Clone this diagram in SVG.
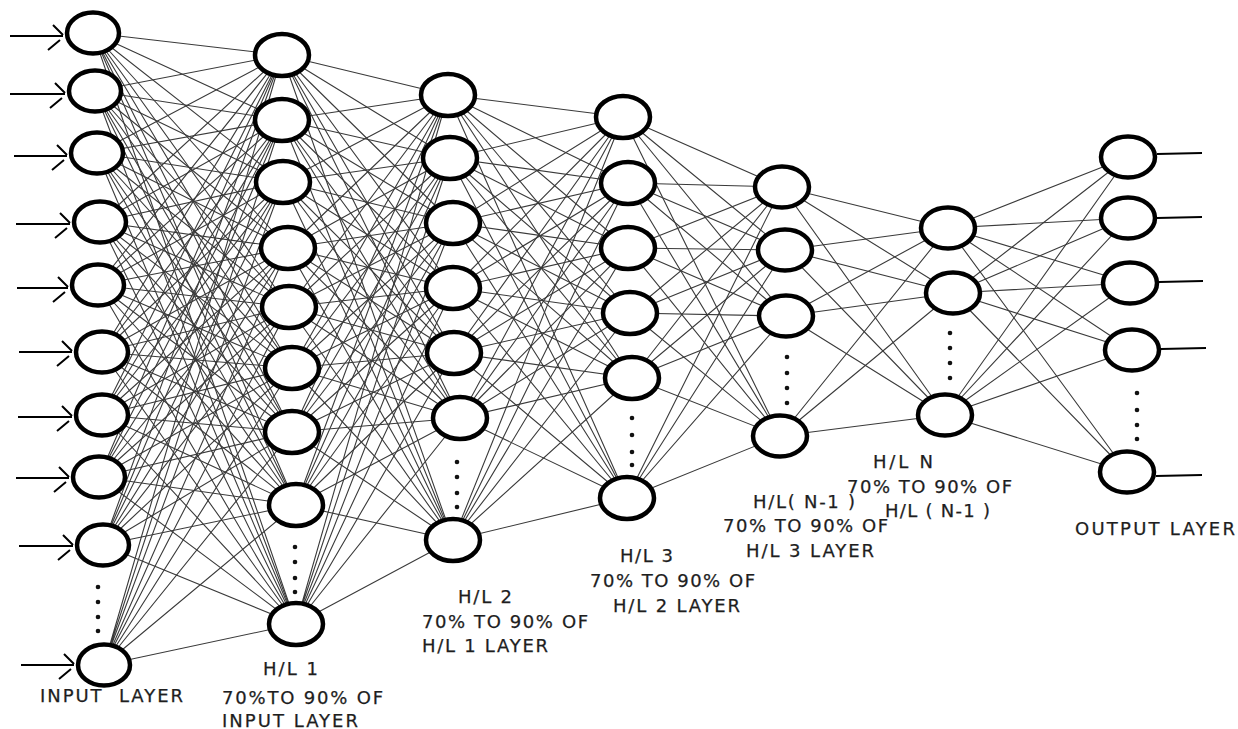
<svg xmlns="http://www.w3.org/2000/svg" width="1238" height="729" viewBox="0 0 1238 729">
  <style>
    .wire { stroke: #3a3a3a; stroke-width: 1.1; fill: none; }
    .node { fill: #fff; stroke: #000; stroke-width: 4.5; }
    .dot { fill: #111; }
    .io { stroke: #000; stroke-width: 2.2; fill: none; }
    .lbl { font-family: "DejaVu Sans", "Liberation Sans", sans-serif; font-size: 18px; fill: #1e1e1e; stroke: #1e1e1e; stroke-width: 0.25; }
  </style>
  <defs>
    <marker id="inHead" markerUnits="userSpaceOnUse" markerWidth="24" markerHeight="36" viewBox="-18 -18 24 36" refX="0" refY="0" orient="auto" overflow="visible">
      <path d="M-10,-11 L0,-1 M-15,14 L-3,4" stroke="#000" stroke-width="2" fill="none"/>
    </marker>
  </defs>
  <rect width="1238" height="729" fill="#fff"/>

  <!-- weighted connections between consecutive layers -->
  <g id="connectors" class="wire">
    <!-- input -> H/L 1 -->
    <path d="M93 33L282 55M93 33L282 120M93 33L283 182M93 33L288 248M93 33L289 307M93 33L292 368M93 33L292 432M93 33L296 505M93 33L296 624"/>
    <path d="M95 91L282 55M95 91L282 120M95 91L283 182M95 91L288 248M95 91L289 307M95 91L292 368M95 91L292 432M95 91L296 505M95 91L296 624"/>
    <path d="M97 153L282 55M97 153L282 120M97 153L283 182M97 153L288 248M97 153L289 307M97 153L292 368M97 153L292 432M97 153L296 505M97 153L296 624"/>
    <path d="M100 222L282 55M100 222L282 120M100 222L283 182M100 222L288 248M100 222L289 307M100 222L292 368M100 222L292 432M100 222L296 505M100 222L296 624"/>
    <path d="M98 285L282 55M98 285L282 120M98 285L283 182M98 285L288 248M98 285L289 307M98 285L292 368M98 285L292 432M98 285L296 505M98 285L296 624"/>
    <path d="M102 352L282 55M102 352L282 120M102 352L283 182M102 352L288 248M102 352L289 307M102 352L292 368M102 352L292 432M102 352L296 505M102 352L296 624"/>
    <path d="M102 415L282 55M102 415L282 120M102 415L283 182M102 415L288 248M102 415L289 307M102 415L292 368M102 415L292 432M102 415L296 505M102 415L296 624"/>
    <path d="M99 477L282 55M99 477L282 120M99 477L283 182M99 477L288 248M99 477L289 307M99 477L292 368M99 477L292 432M99 477L296 505M99 477L296 624"/>
    <path d="M103 545L282 55M103 545L282 120M103 545L283 182M103 545L288 248M103 545L289 307M103 545L292 368M103 545L292 432M103 545L296 505M103 545L296 624"/>
    <path d="M104 665L282 55M104 665L282 120M104 665L283 182M104 665L288 248M104 665L289 307M104 665L292 368M104 665L292 432M104 665L296 505M104 665L296 624"/>
    <!-- H/L 1 -> H/L 2 -->
    <path d="M282 55L448 95M282 55L450 158M282 55L453 223M282 55L453 288M282 55L454 353M282 55L460 418M282 55L453 540"/>
    <path d="M282 120L448 95M282 120L450 158M282 120L453 223M282 120L453 288M282 120L454 353M282 120L460 418M282 120L453 540"/>
    <path d="M283 182L448 95M283 182L450 158M283 182L453 223M283 182L453 288M283 182L454 353M283 182L460 418M283 182L453 540"/>
    <path d="M288 248L448 95M288 248L450 158M288 248L453 223M288 248L453 288M288 248L454 353M288 248L460 418M288 248L453 540"/>
    <path d="M289 307L448 95M289 307L450 158M289 307L453 223M289 307L453 288M289 307L454 353M289 307L460 418M289 307L453 540"/>
    <path d="M292 368L448 95M292 368L450 158M292 368L453 223M292 368L453 288M292 368L454 353M292 368L460 418M292 368L453 540"/>
    <path d="M292 432L448 95M292 432L450 158M292 432L453 223M292 432L453 288M292 432L454 353M292 432L460 418M292 432L453 540"/>
    <path d="M296 505L448 95M296 505L450 158M296 505L453 223M296 505L453 288M296 505L454 353M296 505L460 418M296 505L453 540"/>
    <path d="M296 624L448 95M296 624L450 158M296 624L453 223M296 624L453 288M296 624L454 353M296 624L460 418M296 624L453 540"/>
    <!-- H/L 2 -> H/L 3 -->
    <path d="M448 95L623 117M448 95L628 183M448 95L628 248M448 95L630 313M448 95L632 378M448 95L627 498"/>
    <path d="M450 158L623 117M450 158L628 183M450 158L628 248M450 158L630 313M450 158L632 378M450 158L627 498"/>
    <path d="M453 223L623 117M453 223L628 183M453 223L628 248M453 223L630 313M453 223L632 378M453 223L627 498"/>
    <path d="M453 288L623 117M453 288L628 183M453 288L628 248M453 288L630 313M453 288L632 378M453 288L627 498"/>
    <path d="M454 353L623 117M454 353L628 183M454 353L628 248M454 353L630 313M454 353L632 378M454 353L627 498"/>
    <path d="M460 418L623 117M460 418L628 183M460 418L628 248M460 418L630 313M460 418L632 378M460 418L627 498"/>
    <path d="M453 540L623 117M453 540L628 183M453 540L628 248M453 540L630 313M453 540L632 378M453 540L627 498"/>
    <!-- H/L 3 -> H/L (N-1) -->
    <path d="M623 117L782 187M623 117L785 250M623 117L786 316M623 117L780 436"/>
    <path d="M628 183L782 187M628 183L785 250M628 183L786 316M628 183L780 436"/>
    <path d="M628 248L782 187M628 248L785 250M628 248L786 316M628 248L780 436"/>
    <path d="M630 313L782 187M630 313L785 250M630 313L786 316M630 313L780 436"/>
    <path d="M632 378L782 187M632 378L785 250M632 378L786 316M632 378L780 436"/>
    <path d="M627 498L782 187M627 498L785 250M627 498L786 316M627 498L780 436"/>
    <!-- H/L (N-1) -> H/L N -->
    <path d="M782 187L948 228M782 187L953 293M782 187L945 415"/>
    <path d="M785 250L948 228M785 250L953 293M785 250L945 415"/>
    <path d="M786 316L948 228M786 316L953 293M786 316L945 415"/>
    <path d="M780 436L948 228M780 436L953 293M780 436L945 415"/>
    <!-- H/L N -> output -->
    <path d="M948 228L1128 157M948 228L1128 218M948 228L1130 283M948 228L1132 350M948 228L1127 472"/>
    <path d="M953 293L1128 157M953 293L1128 218M953 293L1130 283M953 293L1132 350M953 293L1127 472"/>
    <path d="M945 415L1128 157M945 415L1128 218M945 415L1130 283M945 415L1132 350M945 415L1127 472"/>
  </g>

  <!-- input arrows and output leads -->
  <g id="io-leads" class="io">
    <line x1="10" y1="36" x2="63" y2="36" marker-end="url(#inHead)"/>
    <line x1="10" y1="94" x2="65" y2="94" marker-end="url(#inHead)"/>
    <line x1="14" y1="156" x2="67" y2="156" marker-end="url(#inHead)"/>
    <line x1="16" y1="224" x2="70" y2="224" marker-end="url(#inHead)"/>
    <line x1="17" y1="288" x2="68" y2="288" marker-end="url(#inHead)"/>
    <line x1="19" y1="352" x2="72" y2="352" marker-end="url(#inHead)"/>
    <line x1="18" y1="417" x2="72" y2="417" marker-end="url(#inHead)"/>
    <line x1="16" y1="478" x2="69" y2="478" marker-end="url(#inHead)"/>
    <line x1="19" y1="546" x2="73" y2="546" marker-end="url(#inHead)"/>
    <line x1="21" y1="665" x2="74" y2="665" marker-end="url(#inHead)"/>
    <line x1="1157" y1="154" x2="1202" y2="153"/>
    <line x1="1157" y1="218" x2="1202" y2="217"/>
    <line x1="1159" y1="282" x2="1203" y2="281"/>
    <line x1="1161" y1="349" x2="1206" y2="348"/>
    <line x1="1156" y1="476" x2="1202" y2="475"/>
  </g>

  <!-- input layer -->
  <g id="input-layer">
    <ellipse class="node" cx="93" cy="33" rx="26" ry="20.5"/>
    <ellipse class="node" cx="95" cy="91" rx="26" ry="20.5"/>
    <ellipse class="node" cx="97" cy="153" rx="26" ry="20.5"/>
    <ellipse class="node" cx="100" cy="222" rx="26" ry="20.5"/>
    <ellipse class="node" cx="98" cy="285" rx="26" ry="20.5"/>
    <ellipse class="node" cx="102" cy="352" rx="26" ry="20.5"/>
    <ellipse class="node" cx="102" cy="415" rx="26" ry="20.5"/>
    <ellipse class="node" cx="99" cy="477" rx="26" ry="20.5"/>
    <ellipse class="node" cx="103" cy="545" rx="26" ry="20.5"/>
    <ellipse class="node" cx="104" cy="665" rx="26" ry="20.5"/>
    <circle class="dot" cx="98" cy="587" r="2.3"/>
    <circle class="dot" cx="98" cy="602" r="2.3"/>
    <circle class="dot" cx="98" cy="617" r="2.3"/>
    <circle class="dot" cx="98" cy="631" r="2.3"/>
    <text class="lbl" x="40" y="702" textLength="143" lengthAdjust="spacing" style="white-space:pre">INPUT  LAYER</text>
  </g>

  <!-- hidden layer 1 -->
  <g id="hidden-layer-1">
    <ellipse class="node" cx="282" cy="55" rx="27" ry="21"/>
    <ellipse class="node" cx="282" cy="120" rx="27" ry="21"/>
    <ellipse class="node" cx="283" cy="182" rx="27" ry="21"/>
    <ellipse class="node" cx="288" cy="248" rx="27" ry="21"/>
    <ellipse class="node" cx="289" cy="307" rx="27" ry="21"/>
    <ellipse class="node" cx="292" cy="368" rx="27" ry="21"/>
    <ellipse class="node" cx="292" cy="432" rx="27" ry="21"/>
    <ellipse class="node" cx="296" cy="505" rx="27" ry="21"/>
    <ellipse class="node" cx="296" cy="624" rx="27" ry="21"/>
    <circle class="dot" cx="295" cy="547" r="2.3"/>
    <circle class="dot" cx="295" cy="562" r="2.3"/>
    <circle class="dot" cx="295" cy="578" r="2.3"/>
    <circle class="dot" cx="295" cy="592" r="2.3"/>
    <text class="lbl" x="263" y="675" textLength="55" lengthAdjust="spacing">H/L 1</text>
    <text class="lbl" x="222" y="704" textLength="161" lengthAdjust="spacing">70%TO 90% OF</text>
    <text class="lbl" x="222" y="727" textLength="136" lengthAdjust="spacing">INPUT LAYER</text>
  </g>

  <!-- hidden layer 2 -->
  <g id="hidden-layer-2">
    <ellipse class="node" cx="448" cy="95" rx="27" ry="21"/>
    <ellipse class="node" cx="450" cy="158" rx="27" ry="21"/>
    <ellipse class="node" cx="453" cy="223" rx="27" ry="21"/>
    <ellipse class="node" cx="453" cy="288" rx="27" ry="21"/>
    <ellipse class="node" cx="454" cy="353" rx="27" ry="21"/>
    <ellipse class="node" cx="460" cy="418" rx="27" ry="21"/>
    <ellipse class="node" cx="453" cy="540" rx="27" ry="21"/>
    <circle class="dot" cx="457" cy="462" r="2.3"/>
    <circle class="dot" cx="457" cy="477" r="2.3"/>
    <circle class="dot" cx="457" cy="493" r="2.3"/>
    <circle class="dot" cx="457" cy="507" r="2.3"/>
    <text class="lbl" x="458" y="603" textLength="54" lengthAdjust="spacing">H/L 2</text>
    <text class="lbl" x="422" y="628" textLength="166" lengthAdjust="spacing">70% TO 90% OF</text>
    <text class="lbl" x="422" y="652" textLength="126" lengthAdjust="spacing">H/L 1 LAYER</text>
  </g>

  <!-- hidden layer 3 -->
  <g id="hidden-layer-3">
    <ellipse class="node" cx="623" cy="117" rx="27" ry="21"/>
    <ellipse class="node" cx="628" cy="183" rx="27" ry="21"/>
    <ellipse class="node" cx="628" cy="248" rx="27" ry="21"/>
    <ellipse class="node" cx="630" cy="313" rx="27" ry="21"/>
    <ellipse class="node" cx="632" cy="378" rx="27" ry="21"/>
    <ellipse class="node" cx="627" cy="498" rx="27" ry="21"/>
    <circle class="dot" cx="632" cy="418" r="2.3"/>
    <circle class="dot" cx="632" cy="435" r="2.3"/>
    <circle class="dot" cx="632" cy="452" r="2.3"/>
    <circle class="dot" cx="632" cy="465" r="2.3"/>
    <text class="lbl" x="620" y="562" textLength="53" lengthAdjust="spacing">H/L 3</text>
    <text class="lbl" x="590" y="587" textLength="165" lengthAdjust="spacing">70% TO 90% OF</text>
    <text class="lbl" x="613" y="612" textLength="127" lengthAdjust="spacing">H/L 2 LAYER</text>
  </g>

  <!-- hidden layer N-1 -->
  <g id="hidden-layer-n-1">
    <ellipse class="node" cx="782" cy="187" rx="27" ry="20.5"/>
    <ellipse class="node" cx="785" cy="250" rx="27" ry="20.5"/>
    <ellipse class="node" cx="786" cy="316" rx="27" ry="20.5"/>
    <ellipse class="node" cx="780" cy="436" rx="27" ry="20.5"/>
    <circle class="dot" cx="787" cy="357" r="2.3"/>
    <circle class="dot" cx="787" cy="373" r="2.3"/>
    <circle class="dot" cx="787" cy="388" r="2.3"/>
    <circle class="dot" cx="787" cy="403" r="2.3"/>
    <text class="lbl" x="753" y="508" textLength="102" lengthAdjust="spacing" style="white-space:pre">H/L( N-1 )</text>
    <text class="lbl" x="723" y="532" textLength="165" lengthAdjust="spacing">70% TO 90% OF</text>
    <text class="lbl" x="746" y="557" textLength="128" lengthAdjust="spacing">H/L 3 LAYER</text>
  </g>

  <!-- hidden layer N -->
  <g id="hidden-layer-n">
    <ellipse class="node" cx="948" cy="228" rx="27" ry="20.5"/>
    <ellipse class="node" cx="953" cy="293" rx="27" ry="20.5"/>
    <ellipse class="node" cx="945" cy="415" rx="27" ry="20.5"/>
    <circle class="dot" cx="950" cy="333" r="2.3"/>
    <circle class="dot" cx="950" cy="348" r="2.3"/>
    <circle class="dot" cx="950" cy="363" r="2.3"/>
    <circle class="dot" cx="950" cy="378" r="2.3"/>
    <text class="lbl" x="873" y="468" textLength="60" lengthAdjust="spacing">H/L N</text>
    <text class="lbl" x="847" y="493" textLength="165" lengthAdjust="spacing">70% TO 90% OF</text>
    <text class="lbl" x="885" y="517" textLength="105" lengthAdjust="spacing" style="white-space:pre">H/L ( N-1 )</text>
  </g>

  <!-- output layer -->
  <g id="output-layer">
    <ellipse class="node" cx="1128" cy="157" rx="27" ry="20.5"/>
    <ellipse class="node" cx="1128" cy="218" rx="27" ry="20.5"/>
    <ellipse class="node" cx="1130" cy="283" rx="27" ry="20.5"/>
    <ellipse class="node" cx="1132" cy="350" rx="27" ry="20.5"/>
    <ellipse class="node" cx="1127" cy="472" rx="27" ry="20.5"/>
    <circle class="dot" cx="1137" cy="393" r="2.3"/>
    <circle class="dot" cx="1137" cy="410" r="2.3"/>
    <circle class="dot" cx="1137" cy="425" r="2.3"/>
    <circle class="dot" cx="1137" cy="439" r="2.3"/>
    <text class="lbl" x="1075" y="535" textLength="160" lengthAdjust="spacing">OUTPUT LAYER</text>
  </g>
</svg>
